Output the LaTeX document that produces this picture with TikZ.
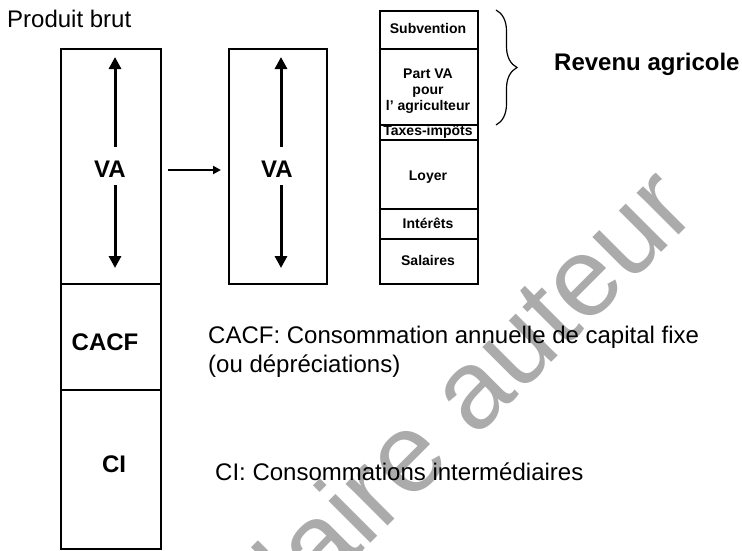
\documentclass[tikz,border=0pt]{standalone}
\usepackage{fontspec}
\setmainfont{Liberation Sans}
\usetikzlibrary{arrows.meta,decorations.pathreplacing}
\begin{document}
\begin{tikzpicture}[x=1pt,y=-1pt,
  box/.style={draw,line width=1.7pt,inner sep=0pt,anchor=north west},
  big/.style={font=\fontsize{24}{29}\selectfont},
  bigb/.style={font=\fontsize{24}{29}\selectfont\bfseries},
  small/.style={font=\fontsize{14}{16}\selectfont\bfseries,align=center},
  varrow/.style={line width=3pt,-{Triangle[length=12pt,width=12pt]}},
  harrow/.style={line width=2pt,-{Triangle[length=8pt,width=8pt]}},
  wm/.style={font=\fontsize{112}{112}\selectfont,text=black!33,rotate=45}]
\useasboundingbox (0,0) rectangle (742,550);
\fill[white] (0,0) rectangle (742,550);
% watermark
\begin{scope}
\clip (0,0) rectangle (742,550);
\node[wm,anchor=base east,inner sep=0pt] (wmk) at (700,214) {Exemplaire auteur};
\end{scope}
% left column
\node[box,minimum width=100pt,minimum height=235pt] (va1) at (60,48) {};
\node[box,minimum width=100pt,minimum height=106pt] (cacf) at (60,283) {};
\node[box,minimum width=100pt,minimum height=159pt] (ci) at (60,389) {};
\node[bigb,anchor=base,inner sep=0pt] (va1t) at (110,177) {VA};
\node[bigb,anchor=base,inner sep=0pt] (cacft) at (105,350) {CACF};
\node[bigb,anchor=base,inner sep=0pt] (cit) at (114,472) {CI};
\coordinate (a1u0) at (115,147); \coordinate (a1u1) at (115,57);
\coordinate (a1d0) at (115,185); \coordinate (a1d1) at (115,268);
\draw[varrow] (a1u0) -- (a1u1);
\draw[varrow] (a1d0) -- (a1d1);
% middle box
\node[box,minimum width=98pt,minimum height=235pt] (va2) at (228,48) {};
\node[bigb,anchor=base,inner sep=0pt] (va2t) at (277,177) {VA};
\coordinate (a2u0) at (281,147); \coordinate (a2u1) at (281,57);
\coordinate (a2d0) at (281,185); \coordinate (a2d1) at (281,268);
\draw[varrow] (a2u0) -- (a2u1);
\draw[varrow] (a2d0) -- (a2d1);
\coordinate (h0) at (168,170); \coordinate (h1) at (221,170);
\draw[harrow] (h0) -- (h1);
% right column
\node[box,minimum width=98pt,minimum height=38pt] (sub) at (379,10) {};
\node[box,minimum width=98pt,minimum height=76pt] (part) at (379,48) {};
\node[box,minimum width=98pt,minimum height=15pt] (tax) at (379,124) {};
\node[box,minimum width=98pt,minimum height=69pt] (loy) at (379,139) {};
\node[box,minimum width=98pt,minimum height=30pt] (int) at (379,208) {};
\node[box,minimum width=98pt,minimum height=45pt] (sal) at (379,238) {};
\node[small,anchor=base,inner sep=0pt] (subt) at (428,33) {Subvention};
\node[small,anchor=base,inner sep=0pt] (partt1) at (428,78) {Part VA};
\node[small,anchor=base,inner sep=0pt] (partt2) at (428,94) {pour};
\node[small,anchor=base,inner sep=0pt] (partt3) at (428,110) {l’ agriculteur};
\node[small,anchor=base,inner sep=0pt] (taxt) at (428,135) {Taxes-impôts};
\node[small,anchor=base,inner sep=0pt] (loyt) at (428,180) {Loyer};
\node[small,anchor=base,inner sep=0pt] (intt) at (428,228) {Intérêts};
\node[small,anchor=base,inner sep=0pt] (salt) at (428,265) {Salaires};
% brace
\coordinate (b0) at (496,10); \coordinate (b1) at (496,125);
\draw[line width=1.2pt,decorate,decoration={brace,amplitude=21pt}] (b0) -- (b1);
\node[bigb,anchor=base west,inner sep=0pt] (rev) at (554,70) {Revenu agricole};
% texts
\node[big,anchor=base west,inner sep=0pt] (pb) at (7,27) {Produit brut};
\node[big,anchor=base west,inner sep=0pt] (d1) at (208,343) {CACF: Consommation annuelle de capital fixe};
\node[big,anchor=base west,inner sep=0pt] (d2) at (208,372) {(ou dépréciations)};
\node[big,anchor=base west,inner sep=0pt] (d3) at (215,480) {CI: Consommations intermédiaires};
\end{tikzpicture}
\end{document}
